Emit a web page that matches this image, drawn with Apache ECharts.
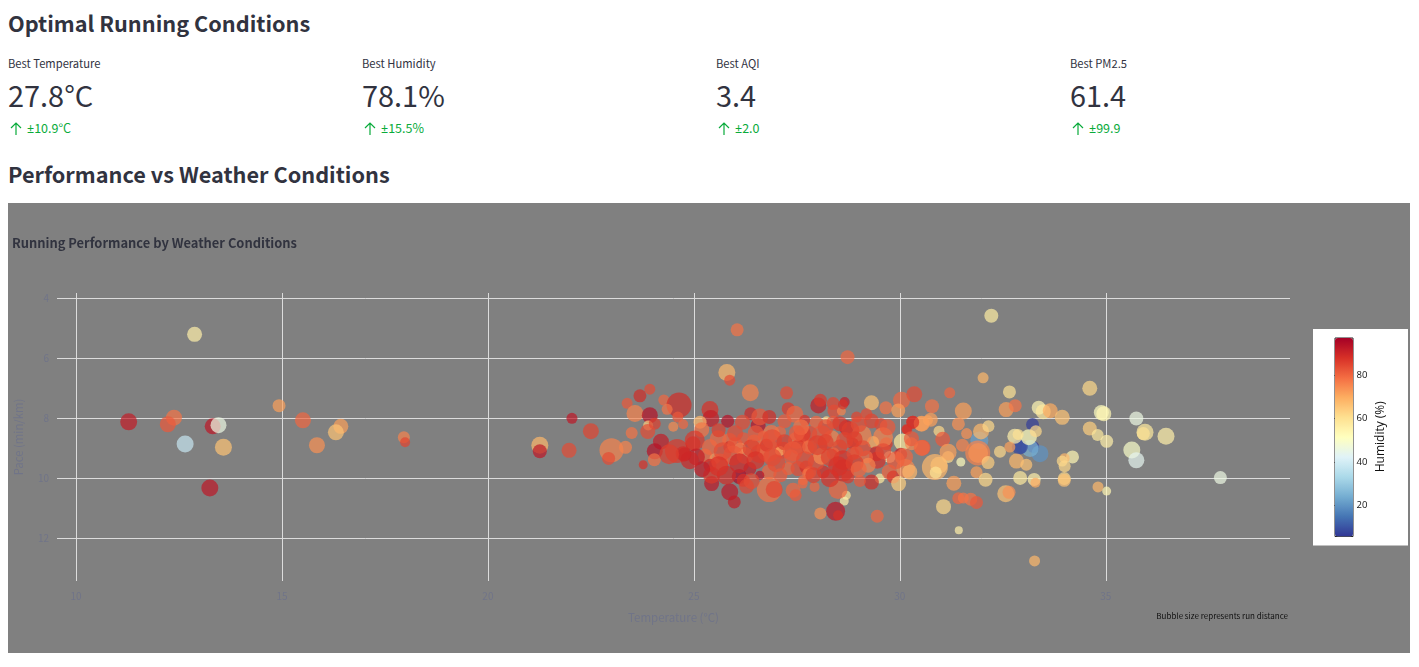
<!DOCTYPE html>
<html><head><meta charset="utf-8">
<script src="https://cdn.jsdelivr.net/npm/echarts@6/dist/echarts.min.js"></script>
<style>
html,body{margin:0;padding:0;background:#fff;overflow:hidden;width:1419px;height:667px;font-family:"Noto Sans CJK SC",sans-serif;color:#31333f}
.h{position:absolute;left:8px;font-weight:700;font-size:21.7px;line-height:32px;white-space:nowrap}
.m{position:absolute;top:0;width:340px}
.m div{position:absolute;left:0;white-space:nowrap}
.l{top:54px;font-size:11.2px;line-height:18px}
.v{top:72px;font-size:28.9px;line-height:44px}
.d{top:119px;font-size:12.5px;line-height:18px;color:#09ab3b;padding-left:19px}
.d svg{position:absolute;left:2px;top:3px}
.d b{font-family:"Noto Sans";font-weight:400}
#chart{position:absolute;left:8px;top:203px;width:1402px;height:450px}
</style></head><body>
<div class="h" style="top:7px">Optimal Running Conditions</div>
<div class="m" style="left:8px"><div class="l">Best Temperature</div><div class="v">27.8°C</div><div class="d"><svg width="12" height="13" viewBox="0 0 12 13" fill="none" stroke="#09ab3b" stroke-width="1.2"><path d="M6 13V1M1 6l5-5 5 5"/></svg><b>±</b>10.9°C</div></div>
<div class="m" style="left:362px"><div class="l">Best Humidity</div><div class="v">78.1%</div><div class="d"><svg width="12" height="13" viewBox="0 0 12 13" fill="none" stroke="#09ab3b" stroke-width="1.2"><path d="M6 13V1M1 6l5-5 5 5"/></svg><b>±</b>15.5%</div></div>
<div class="m" style="left:716px"><div class="l">Best AQI</div><div class="v">3.4</div><div class="d"><svg width="12" height="13" viewBox="0 0 12 13" fill="none" stroke="#09ab3b" stroke-width="1.2"><path d="M6 13V1M1 6l5-5 5 5"/></svg><b>±</b>2.0</div></div>
<div class="m" style="left:1070px"><div class="l">Best PM2.5</div><div class="v">61.4</div><div class="d"><svg width="12" height="13" viewBox="0 0 12 13" fill="none" stroke="#09ab3b" stroke-width="1.2"><path d="M6 13V1M1 6l5-5 5 5"/></svg><b>±</b>99.9</div></div>
<div class="h" style="top:158px">Performance vs Weather Conditions</div>
<div id="chart"></div>
<script>
const temperature=[
12.88,11.28,12.38,12.23,13.32,13.46,12.65,13.58,13.25,14.93,
15.51,16.43,16.31,15.85,17.96,17.99,21.26,21.26,21.97,22.04,
22.5,26.05,28.73,25.8,25.87,26.37,27.25,23.93,23.69,23.38,
24.27,24.64,24.35,23.57,23.93,24.61,24.74,24.5,23.89,24.05,
23.88,23.49,24.2,24.05,24.59,24.77,24.04,23.77,23.34,23.0,
22.93,25.39,25.41,25.82,25.15,25.19,24.98,25.02,26.38,26.56,
26.18,26.6,26.83,27.29,27.45,27.69,27.09,26.88,26.68,26.46,
26.2,26.12,25.87,25.86,25.59,25.39,25.27,25.51,25.39,25.06,
24.74,25.63,25.95,26.24,26.6,26.8,26.76,27.17,27.09,27.49,
27.65,27.77,27.53,27.37,27.29,27.53,27.72,27.77,27.64,27.41,
27.47,26.83,26.83,26.95,26.36,26.6,26.1,26.2,26.28,25.87,
25.98,25.43,25.43,25.79,29.31,29.66,30.04,30.35,29.96,28.02,
28.07,28.38,28.66,28.4,28.58,28.62,28.95,29.19,27.97,28.22,
28.38,28.7,28.54,29.31,29.54,30.32,30.18,30.52,30.68,30.55,
30.06,30.28,30.02,29.75,29.67,29.59,29.35,29.07,28.86,28.95,
29.43,29.45,29.19,29.23,29.51,29.31,29.03,29.74,29.84,30.14,
30.24,29.97,28.7,28.65,28.5,27.93,27.81,28.14,27.97,28.1,
27.81,28.34,28.1,27.81,27.63,28.66,28.54,28.38,28.62,28.62,
28.74,28.86,28.44,28.5,28.07,29.45,27.65,32.22,32.02,31.21,
30.78,31.54,32.66,32.58,32.8,33.37,33.48,33.65,33.94,34.61,
34.89,34.95,35.74,35.95,35.91,36.46,34.61,34.8,35.02,35.63,
35.74,34.19,34.0,33.94,34.0,33.99,33.99,34.81,35.02,37.78,
33.22,33.24,33.4,33.16,32.9,32.95,33.13,32.79,32.87,33.3,
31.93,31.97,32.15,31.62,31.42,30.95,31.04,30.75,30.53,30.31,
30.16,30.28,30.53,31.52,31.89,31.9,31.17,31.17,31.48,30.95,
30.85,30.87,32.43,32.67,32.14,31.86,32.08,32.83,33.07,32.92,
33.26,33.29,32.57,32.65,31.31,31.42,31.54,31.72,31.86,31.06,
31.43,33.27,
25.7,26.0,26.4,26.9,27.2,27.4,27.7,28.0,28.3,28.5,
28.9,29.1,28.8,28.2,27.6,27.2,26.5,26.0,25.6,25.6,
26.1,26.5,27.0,27.9,28.3,29.0,29.6,29.9,30.1,29.0,
29.7,27.1,26.4,25.2,24.9,24.4,28.9,28.2,27.5,26.9];
const pace=[
5.2,8.12,7.98,8.2,8.27,8.23,8.86,8.97,10.33,7.58,
8.07,8.27,8.47,8.9,8.63,8.8,8.9,9.1,9.07,8.0,
8.43,5.05,5.96,6.47,6.73,7.15,7.15,7.03,7.25,7.5,
7.39,7.56,7.7,7.84,7.9,7.96,8.2,8.28,8.24,8.18,
8.44,8.49,8.78,9.1,9.09,9.21,9.38,9.55,8.97,9.07,
9.34,7.71,8.01,8.1,8.13,8.38,8.85,8.74,7.85,8.24,
8.13,7.96,7.96,7.68,7.87,8.07,8.46,8.51,8.6,8.79,
8.68,9.01,8.74,8.96,8.68,8.96,9.24,9.35,9.57,9.29,
9.18,9.46,9.24,9.24,9.18,9.07,8.9,9.07,9.09,8.74,
8.63,8.96,8.96,9.29,9.68,9.68,9.63,9.85,10.18,10.4,
10.57,9.79,10.38,10.38,9.68,9.9,9.94,10.07,10.27,10.46,
10.79,10.18,9.9,9.9,7.48,7.65,7.4,7.2,7.74,7.57,
7.4,7.51,7.46,7.76,7.76,7.54,7.96,7.87,8.13,8.07,
8.13,8.31,8.18,8.09,8.21,8.13,8.38,8.18,8.07,8.98,
8.79,8.85,9.2,9.29,8.85,8.63,8.79,8.57,8.85,9.13,
9.18,9.4,9.29,9.57,10.01,10.13,10.09,9.79,9.96,9.68,
9.79,10.18,10.57,10.76,10.38,10.29,9.81,9.79,9.46,9.27,
8.96,8.68,8.57,8.51,8.51,8.74,8.96,9.18,9.4,9.74,
9.96,9.18,11.1,11.24,11.18,11.27,10.07,4.58,6.65,7.15,
7.6,7.76,7.12,7.71,7.58,7.65,7.78,7.75,7.97,7.0,
7.81,7.85,8.01,8.47,8.51,8.6,8.34,8.56,8.77,9.06,
9.4,9.29,9.33,9.43,9.6,10.01,10.07,10.29,10.43,9.98,
8.21,8.96,9.18,9.01,8.96,8.96,8.63,8.6,8.54,8.43,
8.74,8.44,8.27,8.51,8.19,8.43,8.7,8.05,8.18,8.13,
8.37,8.68,8.99,8.9,9.16,9.16,9.29,9.13,9.46,9.57,
9.63,9.81,9.12,8.96,9.48,9.8,10.05,9.43,9.55,9.99,
10.04,10.15,10.52,10.47,10.17,10.67,10.66,10.7,10.81,10.95,
11.74,12.76,
9.1,8.9,9.0,8.7,8.8,9.1,9.4,8.9,9.3,9.6,
9.5,9.0,8.4,8.3,8.3,8.1,8.5,8.5,8.4,9.6,
9.5,9.4,9.5,9.9,10.0,9.7,9.1,9.4,9.3,8.2,
8.3,9.9,10.1,9.7,9.4,9.2,8.7,8.8,8.5,9.3];
const humidity=[
56,92,78,82,93,46,38,66,93,72,
80,72,66,74,76,85,68,93,84,93,
85,78,80,68,84,76,84,84,89,82,
80,89,78,76,94,82,80,75,64,86,
84,78,92,94,87,92,78,88,76,76,
84,88,92,94,68,78,90,87,90,94,
84,82,89,87,80,88,80,78,80,80,
82,66,80,89,80,80,80,74,90,92,
89,80,82,78,84,80,87,85,70,78,
80,80,87,82,80,84,89,80,80,80,
82,80,78,85,92,94,96,88,85,93,
92,93,87,89,66,78,80,84,72,92,
87,85,92,84,76,88,85,84,80,62,
82,92,87,85,85,89,88,72,70,82,
58,75,92,54,87,76,70,76,89,80,
90,88,80,76,58,89,82,80,87,75,
68,64,60,56,80,80,78,89,84,75,
80,76,82,84,87,84,85,80,88,89,
87,84,93,88,74,80,80,57,68,80,
78,72,60,72,78,54,58,70,66,62,
52,54,46,58,60,56,64,58,56,50,
44,54,68,62,62,62,66,68,54,46,
7,7,20,25,8,10,52,56,60,62,
22,68,62,74,74,62,82,72,72,88,
88,82,80,76,76,74,62,72,52,64,
68,60,62,72,64,72,62,68,66,58,
56,70,66,74,72,80,78,78,82,62,
56,68,
84,82,86,84,86,82,84,86,86,88,
86,84,86,84,78,82,82,84,86,88,
90,88,84,86,88,80,84,82,80,84,
82,82,84,92,90,86,86,86,82,84];
const distance=[
7.5,8.5,8,8,8,8,8.5,8.5,8.5,6.5,
8,7.5,8,8,6,5,8.5,7,7.5,5.5,
8,6.5,7,8.5,5.5,8.5,6.5,5.5,6.5,5.5,
5.5,12.5,5.5,8.5,8,5.5,5,5,5,6,
7.5,6,8,8,12,7,6.5,4.5,6.5,12,
6.5,8.5,8.5,6.5,6.5,7.5,7.5,10,6.5,7.5,
7.5,8.5,7,6.5,8.5,5.5,6,8.5,5.5,7.5,
6.5,6,7.5,6,8.5,8,7,5.5,6.5,8.5,
7.5,8.5,10,8.5,9.5,11.5,6.5,8.5,5,8.5,
6.5,6.5,7.5,7.5,6.5,7.5,6.5,6,5,7.5,
6,7.5,12.5,8.5,6.5,4.5,7.5,6.5,7.5,8.5,
6.5,7.5,8.5,9.5,7.5,6.5,8.5,8,7,8,
6.5,6.5,5,6.5,4.5,5,5.5,6,6.5,4,
6.5,7.5,7.5,7.5,6.5,6.5,5,7.5,5,8,
8.5,6.5,6.5,6,6.5,10,6,10,6,6.5,
7.5,8.5,6.5,7.5,5,7.5,6,7.5,6.5,9.5,
7.5,7.5,4.5,4.5,9.5,5,6.5,6.5,8.5,8.5,
7.5,8.5,10,7.5,8.5,8.5,7.5,6.5,10,11,
6.5,6.5,9.5,5,6,6.5,5,7,5.5,5.5,
7,8.5,6.5,7.5,6.5,7,7.5,7.5,7.5,7.5,
7.5,7.5,7,8.5,6.5,8.5,7,6,6.5,8.5,
8,6.5,5,5.5,6,6.5,6.5,5.5,4.5,6.5,
6.5,6,8.5,8.5,7.5,6.5,8,7.5,5.5,6,
9,8,6,5.5,6.5,5.5,7.5,7,8,6.5,
5,7.5,8,6.5,12.5,10,6,8.5,4.5,8.5,
13,6,6,5.5,6.5,6,7,7.5,6,7,
6.5,5,8.5,6.5,7.5,6,5.5,6.5,6.5,7.5,
4,5.5,
9,8,9,10,8,10,9,10,9,10,
9,8,9,8,8,7,8,8,7,10,
10,9,9,8,9,8,8,9,9,8,
8,7,8,8,9,10,8,8,8,9];
const xTicks=[10,15,20,25,30,35];
const yTicks=[4,6,8,10,12];
const humidityTicks=[20,40,60,80];
const rdYlBu=['#313695','#4575b4','#74add1','#abd9e9','#e0f3f8','#ffffbf','#fee090','#fdae61','#f46d43','#d73027','#a50026'];
const points=temperature.map((t,i)=>[t,pace[i],humidity[i],distance[i]]);
const F='"Noto Sans CJK SC",sans-serif', FAINT='#707488', GRID='#dcdcdc';
const chart=echarts.init(document.getElementById('chart'));
chart.setOption({
 backgroundColor:'#808080',
 animation:false,
 textStyle:{fontFamily:F},
 title:{text:'Running Performance by Weather Conditions',left:-1,top:29,textStyle:{fontFamily:F,fontSize:12.9,fontWeight:'bold',color:'#31333f'}},
 grid:[
  {left:49,top:90,width:1233,height:288,outerBoundsMode:'none'},
  {left:1326.5,top:134.5,width:18,height:198.5,outerBoundsMode:'none'}
 ],
 xAxis:[
  {type:'value',gridIndex:0,min:9.54,max:39.47,name:'Temperature (°C)',nameLocation:'middle',nameGap:31,
   nameTextStyle:{color:FAINT,fontSize:11.5,fontFamily:F},
   axisLine:{show:false},axisTick:{show:false,customValues:xTicks},
   axisLabel:{color:FAINT,fontSize:10,margin:10,customValues:xTicks},
   splitLine:{show:true,lineStyle:{color:GRID,width:1}}},
  {type:'value',gridIndex:1,min:0,max:1,show:false}
 ],
 yAxis:[
  {type:'value',gridIndex:0,inverse:true,min:3.82,max:13.43,name:'Pace (min/km)',nameLocation:'middle',nameGap:33,
   nameTextStyle:{color:FAINT,fontSize:11.3,fontFamily:F},
   axisLine:{show:false},axisTick:{show:false,customValues:yTicks},
   axisLabel:{color:FAINT,fontSize:10,margin:8,customValues:yTicks},
   splitLine:{show:true,lineStyle:{color:GRID,width:1}}},
  {type:'value',gridIndex:1,position:'right',min:6,max:97.3,name:'Humidity (%)',nameLocation:'middle',nameGap:22,nameRotate:90,
   nameTextStyle:{color:'#111',fontSize:12,fontFamily:'"Open Sans"'},
   axisLine:{show:false},axisTick:{show:true,length:3,customValues:humidityTicks,lineStyle:{color:'#222'}},
   axisLabel:{color:'#111',fontSize:9.5,margin:4,fontFamily:'"Open Sans"',customValues:humidityTicks},
   splitLine:{show:false}}
 ],
 visualMap:{type:'continuous',min:6,max:97.3,dimension:2,seriesIndex:0,calculable:false,realtime:false,
  left:1326.5,top:134.5,itemWidth:18,itemHeight:198.5,padding:0,borderColor:'#222',borderWidth:1,
  text:null,showLabel:false,inRange:{color:rdYlBu},hoverLink:false},
 graphic:[
  {type:'rect',z:-1,shape:{x:1305,y:126,width:95,height:216.5},style:{fill:'#fff'}},
  {type:'text',right:122,top:409,style:{text:'Bubble size represents run distance',fontFamily:F,fontSize:8,fill:'#111'}}
 ],
 series:[{type:'scatter',xAxisIndex:0,yAxisIndex:0,data:points,symbol:'circle',
  symbolSize:v=>v[3]*2,itemStyle:{opacity:0.7,borderWidth:0}}]
});
</script></body></html>
